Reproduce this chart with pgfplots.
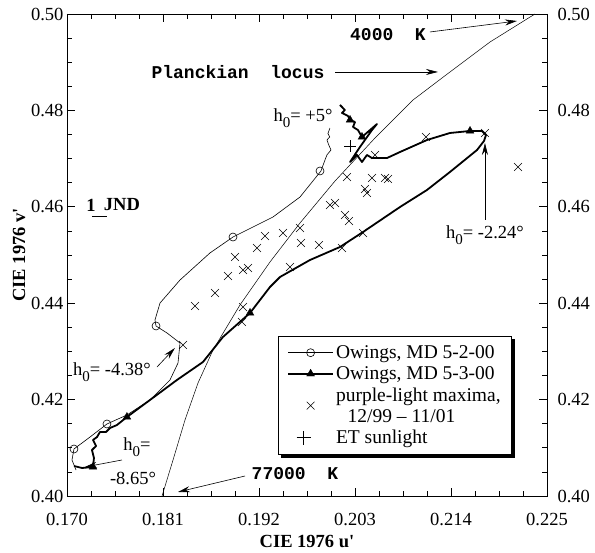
\documentclass[border=0pt]{standalone}
\usepackage{fontspec}
\setmainfont{Liberation Serif}
\setmonofont{Liberation Mono}
\usepackage{pgfplots}
\pgfplotsset{compat=1.18}
\usetikzlibrary{arrows.meta}

\newcommand{\hz}{h\raisebox{-6pt}{\fontsize{15}{15}\selectfont 0}}

\begin{document}
\begin{tikzpicture}[font=\fontsize{18.5}{21}\selectfont]
\begin{axis}[
    at={(0pt,0pt)}, anchor=south west,
    width=480pt, height=482pt, scale only axis,
    xmin=0.170, xmax=0.225, ymin=0.40, ymax=0.50,
    xtick={0.170,0.181,0.192,0.203,0.214,0.225},
    xticklabels={0.170,0.181,0.192,0.203,0.214,0.225},
    ytick={0.40,0.42,0.44,0.46,0.48,0.50},
    yticklabels={0.40,0.42,0.44,0.46,0.48,0.50},
    minor x tick num=3, minor y tick num=3,
    tick align=inside, major tick length=8pt, minor tick length=5pt,
    tick style={line width=0.6pt, black},
    axis line style={line width=0.8pt},
    ticklabel style={font=\fontsize{18.5}{20}\selectfont},
    xticklabel style={anchor=base, yshift=-30pt},
    xlabel={CIE 1976 u\textquotesingle},
    ylabel={CIE 1976 v\textquotesingle},
    label style={font=\fontsize{18.5}{20}\selectfont\bfseries},
    xlabel style={at={(rel axis cs:0.5,0)}, anchor=center, yshift=-45pt},
    ylabel style={at={(rel axis cs:0,0.5)}, anchor=center, yshift=48pt},
    clip=false,
    legend cell align=left,
    legend style={name=leg, at={(rel axis cs:0.4396,0.332)}, anchor=north west,
        draw=black, fill=white,
        font=\fontsize{19.5}{21}\selectfont, cells={align=left},
        inner xsep=9pt, inner ysep=6pt, nodes={inner ysep=3.3pt},
        /tikz/every even column/.append style={column sep=4pt}},
]
% Planckian locus
\addplot[black, line width=0.5pt, forget plot] coordinates {
    (0.18089,0.40000) (0.18215,0.40747) (0.18352,0.41577) (0.18501,0.42344)
    (0.18673,0.43029) (0.18982,0.43963) (0.19326,0.44855) (0.19670,0.45664)
    (0.20071,0.46535) (0.20529,0.47427) (0.20965,0.48216) (0.21388,0.48797)
    (0.21847,0.49419) (0.22362,0.50000)
};
% Owings 5-2-00 (thin)
\addplot[black, line width=0.6pt, forget plot] coordinates {
    (0.20013,0.47635) (0.19990,0.47520) (0.20010,0.47450) (0.19979,0.47386)
    (0.20000,0.47280) (0.20025,0.47178) (0.19980,0.47080) (0.19956,0.46971)
    (0.19910,0.46743) (0.19670,0.46203) (0.19360,0.45788) (0.18902,0.45373)
    (0.18638,0.45042) (0.18295,0.44481) (0.18066,0.44004) (0.18008,0.43651)
    (0.18020,0.43527) (0.18146,0.43382) (0.18295,0.43174) (0.18272,0.42759)
    (0.18180,0.42407) (0.17951,0.41992) (0.17687,0.41681) (0.17458,0.41494)
    (0.17264,0.41224) (0.17080,0.40975) (0.17057,0.40747) (0.17103,0.40539)
};
\addplot[only marks, mark=o, mark size=4pt, mark options={fill=white, line width=0.6pt}, forget plot] coordinates {
    (0.19899,0.46743) (0.18902,0.45373) (0.18020,0.43527) (0.17458,0.41494) (0.17080,0.40975)
};
% Owings 5-3-00 (thick)
\addplot[black, line width=1.8pt, line join=round, forget plot] coordinates {
    (0.20128,0.48112) (0.20185,0.48008) (0.20151,0.47946) (0.20220,0.47884)
    (0.20243,0.47801) (0.20300,0.47759) (0.20277,0.47656) (0.20334,0.47593)
    (0.20380,0.47448) (0.20552,0.47718) (0.20495,0.47593) (0.20357,0.47241)
    (0.20243,0.46929) (0.20323,0.47075) (0.20380,0.46929) (0.20437,0.47075)
    (0.20495,0.47012) (0.20667,0.47012) (0.20816,0.47137) (0.21125,0.47386)
    (0.21388,0.47531) (0.21618,0.47573) (0.21755,0.47573) (0.21801,0.47490)
    (0.21778,0.47365) (0.21698,0.47178) (0.21388,0.46722) (0.21125,0.46349)
    (0.20816,0.45996) (0.20392,0.45477) (0.20128,0.45166) (0.19784,0.44896)
    (0.19441,0.44544) (0.19326,0.44336) (0.19097,0.43797) (0.18787,0.43299)
    (0.18558,0.42780) (0.18260,0.42407) (0.17951,0.41992) (0.17687,0.41639)
    (0.17573,0.41473) (0.17493,0.41411) (0.17447,0.41328) (0.17378,0.41328)
    (0.17344,0.41224) (0.17298,0.41162) (0.17333,0.41037) (0.17286,0.40954)
    (0.17309,0.40788) (0.17298,0.40602) (0.17172,0.40581) (0.17080,0.40622)
};
\addplot[only marks, mark=triangle*, mark size=4.5pt, mark options={fill=black}, forget plot] coordinates {
    (0.20243,0.47801) (0.20380,0.47448) (0.21618,0.47573) (0.19097,0.43797)
    (0.17687,0.41639) (0.17298,0.40602)
};
% purple-light maxima
\addplot[only marks, mark=x, mark size=5.5pt, mark options={line width=0.6pt}, forget plot] coordinates {
    (0.18329,0.43133) (0.18467,0.43942) (0.18696,0.44212) (0.18845,0.44564)
    (0.18925,0.44959) (0.19017,0.44689) (0.19074,0.44730) (0.19177,0.45145)
    (0.19269,0.45394) (0.19475,0.45456) (0.19670,0.45560) (0.19681,0.45249)
    (0.19887,0.45207) (0.19555,0.44751) (0.19017,0.43921) (0.19005,0.43610)
    (0.20013,0.46037) (0.20071,0.46079) (0.20185,0.45830) (0.20231,0.45705)
    (0.20208,0.46618) (0.20414,0.46369) (0.20437,0.46286) (0.20495,0.46598)
    (0.20644,0.46598) (0.20678,0.46577) (0.20529,0.47075) (0.20151,0.45145)
    (0.20392,0.45456) (0.21113,0.47448) (0.21789,0.47531) (0.22168,0.46826)
};
% ET sunlight
\addplot[only marks, mark=+, mark size=6pt, mark options={line width=0.6pt}, forget plot] coordinates {
    (0.20243,0.47261)
};

\addlegendimage{black, line width=0.6pt, mark=o, mark size=4pt, mark options={fill=white},
    legend image code/.code={\draw[mark repeat=2, mark phase=2] plot coordinates {(0pt,0pt) (22.5pt,0pt) (45pt,0pt)};}}
\addlegendentry{Owings, MD 5-2-00}
\addlegendimage{black, line width=1.8pt, mark=triangle*, mark size=4.5pt, mark options={fill=black, line width=0.4pt},
    legend image code/.code={\draw[mark repeat=2, mark phase=2] plot coordinates {(0pt,0pt) (22.5pt,0pt) (45pt,0pt)};}}
\addlegendentry{Owings, MD 5-3-00}
\addlegendimage{black, only marks, mark=x, mark size=5.5pt, mark options={line width=0.6pt},
    legend image code/.code={\path[draw=none] (0pt,0pt) -- (45pt,0pt); \draw plot[only marks] coordinates {(22.5pt,0pt)};}}
\addlegendentry{purple-light maxima,\\\hspace*{0.6em}12/99 -- 11/01}
\addlegendimage{black, only marks, mark=+, mark size=7pt, mark options={line width=0.6pt},
    legend image code/.code={\path[draw=none] (0pt,0pt) -- (45pt,0pt); \draw plot[only marks] coordinates {(15.5pt,0pt)};}}
\addlegendentry{ET sunlight}

% annotations
\node[font=\fontsize{18}{20}\selectfont\ttfamily\bfseries] at (axis cs:0.20678,0.49564) {4000\ \ K};
\draw[line width=0.6pt, -{Stealth[length=12pt,width=6pt]}] (axis cs:0.21159,0.49627) -- (axis cs:0.22156,0.49855);
\node[font=\fontsize{18}{20}\selectfont\ttfamily\bfseries] at (axis cs:0.18959,0.48797) {Planckian\ \ locus};
\draw[line width=0.6pt, -{Stealth[length=12pt,width=6pt]}] (axis cs:0.20071,0.48797) -- (axis cs:0.21251,0.48797);
\node[font=\fontsize{18}{20}\selectfont\ttfamily\bfseries] at (axis cs:0.19612,0.40456) {77000\ \ K};
\draw[line width=0.6pt, -{Stealth[length=12pt,width=6pt]}] (axis cs:0.19040,0.40415) -- (axis cs:0.18272,0.40083);
\node at (axis cs:0.19704,0.47842) {\hz= +5°};
\node at (axis cs:0.21789,0.45415) {\hz= -2.24°};
\draw[line width=0.6pt, -{Stealth[length=12pt,width=6pt]}] (axis cs:0.21789,0.45726) -- (axis cs:0.21789,0.47324);
\node at (axis cs:0.17516,0.42573) {\hz= -4.38°};
\draw[line width=0.6pt, -{Stealth[length=12pt,width=6pt]}] (axis cs:0.18031,0.42676) -- (axis cs:0.18237,0.43071);
\node at (axis cs:0.17802,0.41017) {\hz=};
\node at (axis cs:0.17756,0.40373) {-8.65°};
\draw[line width=0.6pt, -{Stealth[length=12pt,width=6pt]}] (axis cs:0.17630,0.40747) -- (axis cs:0.17206,0.40602);
\node[font=\fontsize{18.5}{20}\selectfont\bfseries] at (axis cs:0.17275,0.46037) {1};
\node[font=\fontsize{18.5}{20}\selectfont\bfseries] at (axis cs:0.17630,0.46037) {JND};
\draw[line width=0.6pt] (axis cs:0.17286,0.45809) -- (axis cs:0.17458,0.45809);
\end{axis}
% legend shadow
\fill[black] ([shift={(3pt,-3pt)}]leg.south west) rectangle (leg.south east);
\fill[black] ([shift={(0pt,-3pt)}]leg.south east) rectangle ([shift={(3pt,-3pt)}]leg.north east);
\begin{axis}[
    at={(0pt,0pt)}, anchor=south west,
    width=480pt, height=482pt, scale only axis,
    xmin=0.170, xmax=0.225, ymin=0.40, ymax=0.50,
    hide x axis, axis y line*=right,
    ytick={0.40,0.42,0.44,0.46,0.48,0.50},
    yticklabels={0.40,0.42,0.44,0.46,0.48,0.50},
    major tick length=0pt,
    axis line style={line width=0.8pt},
    ticklabel style={font=\fontsize{18.5}{20}\selectfont},
    yticklabel style={xshift=7pt},
]
\end{axis}
\path (-67pt,-57pt) rectangle (528pt,496pt);
\end{tikzpicture}
\end{document}
